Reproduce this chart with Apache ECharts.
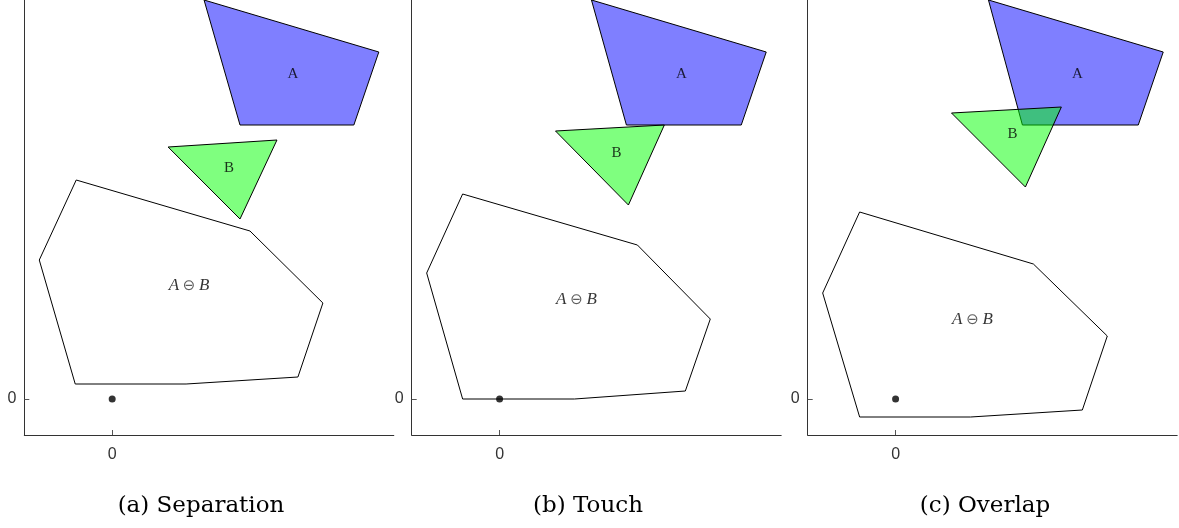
<!DOCTYPE html>
<html>
<head>
<meta charset="utf-8">
<script src="https://cdn.jsdelivr.net/npm/echarts@6/dist/echarts.min.js"></script>
<style>html,body{margin:0;padding:0;background:#fff;}#c{width:1179px;height:528px;}</style>
</head>
<body>
<div id="c"></div>
<script>
// ---- data ----
const panelTitles = ['(a) Separation', '(b) Touch', '(c) Overlap'];
const xTicks = [0];
const yTicks = [0];
const xRange = [-88, 282];
const yRange = [-36, 399];
const origin = [0, 0];

const polyA_sep = [[92, 399], [267, 347], [242, 274], [128, 274]];
const polyA_touch = [[92, 399], [267, 347], [242, 274], [127, 274]];
const polyA_overlap = [[93, 399], [268, 347], [243, 274], [127, 274]];

const polyB_sep = [[56, 252], [165, 259], [128, 180]];
const polyB_touch = [[56, 268], [165, 274], [129, 194]];
const polyB_overlap = [[56, 286], [166, 292], [130, 212]];

const diff_sep = [[-36, 219], [138, 168], [211, 96], [186, 22], [74, 15], [-37, 15], [-73, 139]];
const diff_touch = [[-37, 205], [138, 154], [211, 80], [186, 8], [75, 0], [-37, 0], [-73, 126]];
const diff_overlap = [[-36, 187], [138, 135], [212, 63], [187, -11], [75, -18], [-36, -18], [-73, 106]];

const labelA = [[181, 325], [182, 325], [182, 325]];
const labelB = [[117, 231], [117, 246], [117, 265]];
const labelDiff = [[77, 113], [77, 99], [77, 79]];

// ---- layout ----
const gridLefts = [24.3, 411.7, 807.7];
const gridWidth = 369.5;
const titleCenters = [201, 588, 985];

const polysA = [polyA_sep, polyA_touch, polyA_overlap];
const polysB = [polyB_sep, polyB_touch, polyB_overlap];
const polysD = [diff_sep, diff_touch, diff_overlap];

const chart = echarts.init(document.getElementById('c'), null, {renderer: 'canvas'});

function polySeries(idx, pts, fill) {
  return {
    type: 'custom', xAxisIndex: idx, yAxisIndex: idx, silent: true,
    data: pts,
    renderItem: function (params, api) {
      if (params.dataIndex !== 0) return null;
      const points = pts.map(function (p) { return api.coord(p); });
      return {
        type: 'polygon',
        shape: {points: points},
        style: {fill: fill, stroke: '#000', lineWidth: 1}
      };
    }
  };
}

function labelSeries(idx, pos, text, rich) {
  return {
    type: 'scatter', xAxisIndex: idx, yAxisIndex: idx, silent: true,
    symbolSize: 1, itemStyle: {color: 'rgba(0,0,0,0)'},
    data: [pos],
    label: {
      show: true, position: 'inside', formatter: text,
      fontFamily: 'Liberation Serif', fontSize: 15, color: '#000',
      rich: rich || {}
    }
  };
}

const grids = [], xAxes = [], yAxes = [], series = [], graphics = [];
for (let i = 0; i < 3; i++) {
  grids.push({left: gridLefts[i], width: gridWidth, top: 0, height: 435});
  const axisCommon = {
    type: 'value', gridIndex: i,
    axisLine: {show: true, onZero: false, lineStyle: {color: '#333', width: 1}},
    axisTick: {show: true, inside: true, length: 5, customValues: [], lineStyle: {color: '#555'}},
    axisLabel: {show: true, customValues: [], color: '#333', fontSize: 16, fontFamily: 'Liberation Sans'},
    splitLine: {show: false}
  };
  const xa = JSON.parse(JSON.stringify(axisCommon));
  xa.min = xRange[0]; xa.max = xRange[1];
  xa.axisTick.customValues = xTicks; xa.axisLabel.customValues = xTicks; xa.axisLabel.margin = 12;
  const ya = JSON.parse(JSON.stringify(axisCommon));
  ya.min = yRange[0]; ya.max = yRange[1];
  ya.axisTick.customValues = yTicks; ya.axisLabel.customValues = yTicks; ya.axisLabel.margin = 8;
  xAxes.push(xa); yAxes.push(ya);

  series.push(polySeries(i, polysD[i], 'rgba(0,0,0,0)'));
  series.push(polySeries(i, polysA[i], 'rgba(0,0,255,0.5)'));
  series.push(polySeries(i, polysB[i], 'rgba(0,255,0,0.5)'));
  series.push({
    type: 'scatter', xAxisIndex: i, yAxisIndex: i, silent: true,
    symbol: 'circle', symbolSize: 7, itemStyle: {color: '#000'},
    data: [origin]
  });
  series.push(labelSeries(i, labelA[i], 'A'));
  series.push(labelSeries(i, labelB[i], 'B'));
  series.push(labelSeries(i, labelDiff[i], '{i|A} {n|⊖} {i|B}', {
    i: {fontFamily: 'Liberation Serif', fontStyle: 'italic', fontSize: 17, color: '#000'},
    n: {fontFamily: 'DejaVu Sans', fontSize: 15, color: '#333'}
  }));

  graphics.push({
    type: 'text', x: titleCenters[i], y: 506,
    style: {
      text: panelTitles[i], fill: '#000', fontFamily: 'DejaVu Serif', fontSize: 23,
      textAlign: 'center', textVerticalAlign: 'middle'
    }
  });
}

chart.setOption({
  animation: false,
  backgroundColor: '#fff',
  grid: grids, xAxis: xAxes, yAxis: yAxes, series: series, graphic: graphics
});
</script>
</body>
</html>
